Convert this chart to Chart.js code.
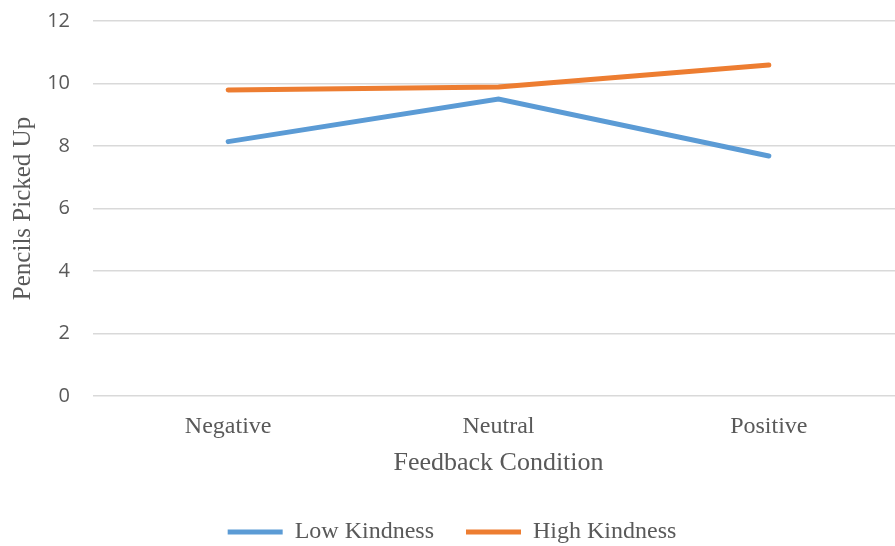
<!DOCTYPE html>
<html lang="en">
<head>
    <meta charset="UTF-8">
    <title>Pencils Picked Up by Feedback Condition</title>
    <script src="https://cdn.jsdelivr.net/npm/chart.js"></script>
    <style>
        body {
            margin: 0;
            background: white;
            overflow: hidden;
        }
        .chart-box {
            width: 904px;
            height: 546px;
        }
    </style>
</head>
<body>
    <div class="chart-box">
        <canvas id="kindnessChart"></canvas>
    </div>

    <script>
        // Data
        const conditions = ['Negative', 'Neutral', 'Positive'];
        const lowKindness = [8.14, 9.5, 7.68];
        const highKindness = [9.79, 9.89, 10.59];
        const yTicks = [0, 2, 4, 6, 8, 10, 12];

        const serif = '"Liberation Serif", "Times New Roman", serif';
        const sans = '"Open Sans", "Liberation Sans", sans-serif';

        // keep the legend short even with wide gaps between items
        const legendHeight = {
            id: 'legendHeight',
            beforeInit(chart) {
                const fit = chart.legend.fit;
                chart.legend.fit = function () {
                    fit.call(this);
                    this.height = 58;
                };
            }
        };

        new Chart(document.getElementById('kindnessChart'), {
            type: 'line',
            data: {
                labels: conditions,
                datasets: [{
                    label: 'Low Kindness',
                    data: lowKindness,
                    borderColor: '#5B9BD5',
                    backgroundColor: '#5B9BD5',
                    borderWidth: 5,
                    borderCapStyle: 'round',
                    pointRadius: 0,
                    tension: 0
                }, {
                    label: 'High Kindness',
                    data: highKindness,
                    borderColor: '#ED7D31',
                    backgroundColor: '#ED7D31',
                    borderWidth: 5,
                    borderCapStyle: 'round',
                    pointRadius: 0,
                    tension: 0
                }]
            },
            plugins: [legendHeight],
            options: {
                responsive: true,
                maintainAspectRatio: false,
                animation: false,
                layout: {
                    padding: { top: 21, left: 0, right: 0, bottom: 0 }
                },
                plugins: {
                    legend: {
                        position: 'bottom',
                        labels: {
                            usePointStyle: true,
                            pointStyle: 'line',
                            pointStyleWidth: 55,
                            padding: 32,
                            color: '#595959',
                            font: { family: serif, size: 24 }
                        }
                    },
                    tooltip: { enabled: false }
                },
                scales: {
                    x: {
                        offset: true,
                        grid: { display: false, drawTicks: false },
                        border: { display: false },
                        ticks: {
                            color: '#595959',
                            padding: 16,
                            font: { family: serif, size: 24 }
                        },
                        title: {
                            display: true,
                            text: 'Feedback Condition',
                            color: '#595959',
                            padding: { top: 0, bottom: 9 },
                            font: { family: serif, size: 26 }
                        },
                        afterFit: (scale) => { scale.height = 92; }
                    },
                    y: {
                        min: 0,
                        max: 12,
                        afterBuildTicks: (scale) => {
                            scale.ticks = yTicks.map(v => ({ value: v }));
                        },
                        grid: {
                            color: '#D9D9D9',
                            lineWidth: 1.5,
                            drawTicks: false
                        },
                        border: { display: false },
                        ticks: {
                            color: '#595959',
                            padding: 23,
                            font: { family: sans, size: 20 }
                        },
                        title: {
                            display: true,
                            text: 'Pencils Picked Up',
                            color: '#595959',
                            padding: { top: 8, bottom: 0 },
                            font: { family: serif, size: 25 }
                        },
                        afterFit: (scale) => {
                            scale.width = 93;
                            scale.paddingTop = 0;
                        }
                    }
                }
            }
        });
    </script>
</body>
</html>
